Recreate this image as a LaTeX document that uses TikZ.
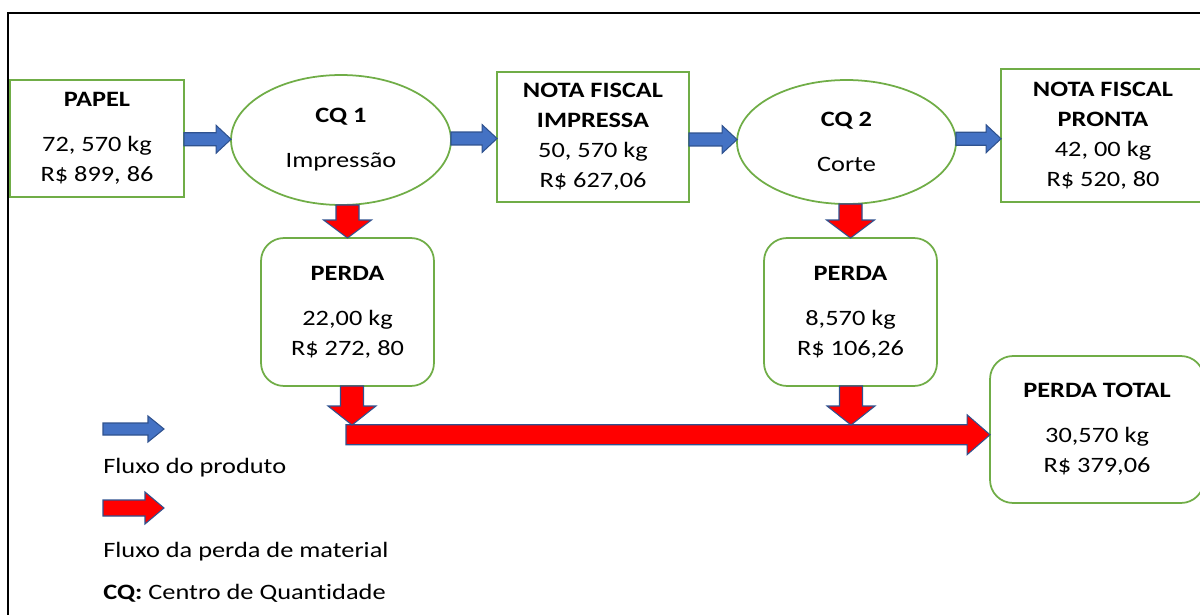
\documentclass[tikz,border=0pt]{standalone}
\usepackage{fontspec}
\setmainfont{Carlito}[FakeStretch=1.2, Ligatures=NoCommon]
\usetikzlibrary{shapes.geometric, calc}

\definecolor{boxgreen}{HTML}{70AD47}
\definecolor{flowblue}{HTML}{4472C4}
\definecolor{edgeblue}{HTML}{2F528F}
\definecolor{lossred}{HTML}{FF0000}

% block arrow pointing right: style, from, to, shaft half width, head half width, head length
\newcommand{\hflow}[6]{%
  \draw[#1] let \p1=(#2), \p2=(#3), \p3=($(#2)!0.5!(#3)$) in
    (\x1,{\y3+#4}) -- ({\x2-#6},{\y3+#4}) -- ({\x2-#6},{\y3+#5}) -- (\x2,\y3)
    -- ({\x2-#6},{\y3-#5}) -- ({\x2-#6},{\y3-#4}) -- (\x1,{\y3-#4}) -- cycle;}
% block arrow pointing down, on the x of its target
\newcommand{\vflow}[6]{%
  \draw[#1] let \p1=(#2), \p2=(#3) in
    ({\x2-#4},\y1) -- ({\x2-#4},{\y2+#6}) -- ({\x2-#5},{\y2+#6}) -- (\x2,\y2)
    -- ({\x2+#5},{\y2+#6}) -- ({\x2+#4},{\y2+#6}) -- ({\x2+#4},\y1) -- cycle;}

\tikzset{
  stockbox/.style={draw=boxgreen, line width=1pt, fill=white, align=center, inner sep=0pt, outer sep=0pt},
  lossbox/.style={stockbox, rounded corners=0.46cm, minimum width=3.46cm, minimum height=2.96cm},
  cqnode/.style={ellipse, draw=boxgreen, line width=1pt, align=center, inner sep=0pt, outer sep=0pt,
    minimum width=4.4cm, minimum height=2.6cm},
  blueflow/.style={fill=flowblue, draw=edgeblue, line width=0.6pt},
  redflow/.style={fill=lossred, draw=edgeblue, line width=0.6pt},
  keytext/.style={anchor=west, inner sep=0pt}
}

\begin{document}
\begin{tikzpicture}[x=0.02cm, y=-0.02cm, font=\fontsize{12.5}{17}\selectfont]
\useasboundingbox (0,0) rectangle (1200,615);

% frame
\draw[line width=1.1pt] (8,615) -- (8,13) -- (1200,13);

% product flow
\node[stockbox, minimum width=3.48cm, minimum height=2.34cm] (papel) at (97,138.5)
    {\textbf{PAPEL}\\[0.3cm] 72, 570 kg\\ R\$ 899, 86};
\node[cqnode] (cq1) at (341,140) {\textbf{CQ 1}\\[0.3cm] Impressão};
\node[stockbox, minimum width=3.84cm, minimum height=2.6cm] (notaimp) at (593,137)
    {\textbf{NOTA FISCAL}\\ \textbf{IMPRESSA}\\ 50, 570 kg\\ R\$ 627,06};
\node[cqnode, minimum width=4.38cm, minimum height=2.48cm] (cq2) at (846.5,142)
    {\textbf{CQ 2}\\[0.3cm] Corte};
\node[stockbox, minimum width=4.08cm, minimum height=2.66cm] (notapro) at (1103,135.5)
    {\textbf{NOTA FISCAL}\\ \textbf{PRONTA}\\ 42, 00 kg\\ R\$ 520, 80};

\hflow{blueflow}{papel.east}{cq1.west}{0.13cm}{0.28cm}{0.3cm}
\hflow{blueflow}{cq1.east}{notaimp.west}{0.13cm}{0.28cm}{0.3cm}
\hflow{blueflow}{notaimp.east}{cq2.west}{0.13cm}{0.28cm}{0.3cm}
\hflow{blueflow}{cq2.east}{notapro.west}{0.13cm}{0.28cm}{0.3cm}

% losses
\node[lossbox] (perda1) at (347.5,312) {\textbf{PERDA}\\[0.3cm] 22,00 kg\\ R\$ 272, 80};
\node[lossbox] (perda2) at (850.5,312) {\textbf{PERDA}\\[0.3cm] 8,570 kg\\ R\$ 106,26};
\node[lossbox, minimum width=4.28cm, minimum height=2.94cm] (perdatotal) at (1097,429.5)
    {\textbf{PERDA TOTAL}\\[0.3cm] 30,570 kg\\ R\$ 379,06};

\vflow{redflow}{cq1.south}{perda1.north}{0.23cm}{0.48cm}{0.36cm}
\vflow{redflow}{cq2.south}{perda2.north}{0.23cm}{0.48cm}{0.36cm}

\coordinate (barstart) at (346,440);
\coordinate (in1) at (352,425);
\coordinate (in2) at (851,425);
\hflow{redflow}{barstart}{perdatotal.west}{0.2cm}{0.4cm}{0.46cm}
\vflow{redflow}{perda1.south}{in1}{0.23cm}{0.48cm}{0.38cm}
\vflow{redflow}{perda2.south}{in2}{0.23cm}{0.48cm}{0.38cm}

% legend
\coordinate (keyb1) at (103,429);
\coordinate (keyb2) at (164,429);
\coordinate (keyr1) at (103,508);
\coordinate (keyr2) at (164,508);
\hflow{blueflow}{keyb1}{keyb2}{0.12cm}{0.26cm}{0.32cm}
\hflow{redflow}{keyr1}{keyr2}{0.16cm}{0.32cm}{0.38cm}
\node[keytext] (keyprod) at (103,468) {Fluxo do produto};
\node[keytext] (keyloss) at (103,552) {Fluxo da perda de material};
\node[keytext] (keycq) at (103,593) {\textbf{CQ:} Centro de Quantidade};

\end{tikzpicture}
\end{document}
